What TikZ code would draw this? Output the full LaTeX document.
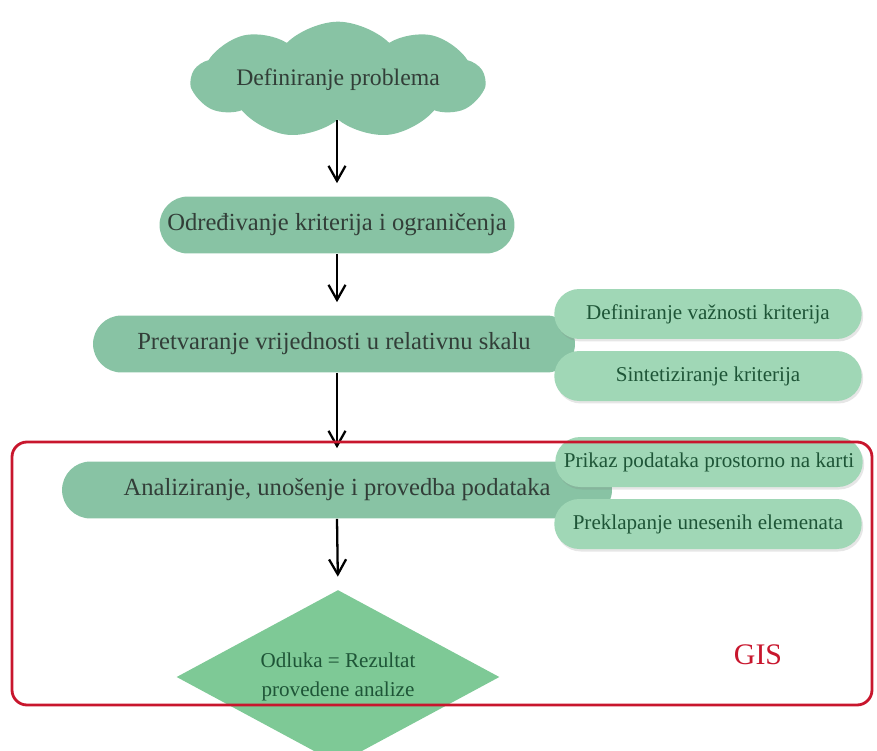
\documentclass[tikz,border=0pt]{standalone}
\usepackage{fontspec}
\setmainfont{Liberation Serif}
\usetikzlibrary{shapes.symbols,shapes.geometric,shadows,arrows.meta}
\definecolor{glavna}{RGB}{136,195,164}
\definecolor{sporedna}{RGB}{160,215,182}
\definecolor{romb}{RGB}{126,201,150}
\definecolor{crvena}{RGB}{200,22,45}
\definecolor{tekst}{RGB}{50,62,56}
\definecolor{zeltekst}{RGB}{30,85,55}

\tikzset{
  oblak/.style={cloud, cloud puffs=9, cloud puff arc=90, aspect=3.2,
    fill=glavna, minimum width=5.85cm, minimum height=2.0cm, inner xsep=-4pt,
    inner ysep=0pt, text=tekst, font=\fontsize{13.5}{15}\selectfont},
  korak/.style={rectangle, fill=glavna, rounded corners=0.57cm,
    minimum height=1.14cm, text=tekst, font=\fontsize{14}{16}\selectfont},
  pod/.style={rectangle, fill=sporedna, rounded corners=0.5cm,
    minimum width=6.15cm, minimum height=1.0cm, text=zeltekst,
    font=\fontsize{12}{14}\selectfont,
    drop shadow={opacity=0.2, shadow xshift=0.03cm, shadow yshift=-0.05cm}},
  odluka/.style={diamond, fill=romb, aspect=1.86, inner sep=0pt,
    minimum width=6.46cm, minimum height=3.48cm, text=zeltekst, align=center,
    font=\fontsize{12}{16.4}\selectfont},
  tok/.style={-{Straight Barb[length=0.3cm, width=0.34cm, line width=1.3pt]},
    line width=1.3pt, shorten >=0.26cm}
}

\begin{document}
\begin{tikzpicture}[x=0.02cm, y=-0.02cm]
\useasboundingbox (0,0) rectangle (877,751);

\node[oblak] (prob) at (338,80) {Definiranje problema};
\node[korak, minimum width=7.1cm] (krit) at (337,225)
     {Određivanje kriterija i ograničenja};
\node[korak, minimum width=9.64cm] (skala) at (334,344)
     {Pretvaranje vrijednosti u relativnu skalu};
\node[korak, minimum width=11cm] (anal) at (337,490)
     {Analiziranje, unošenje i provedba podataka};
\node[odluka] (odl) at (338,677) {Odluka = Rezultat\\provedene analize};

% pomocni koraci
\node[pod] (vazn) at (708,314) {Definiranje važnosti kriterija};
\node[pod] (sint) at (708,376) {Sintetiziranje kriterija};
\node[pod] (prikaz) at (709,462) {Prikaz podataka prostorno na karti};
\node[pod] (prekl) at (708,524) {Preklapanje unesenih elemenata};

\draw[tok] (krit.north |- prob.south) -- (krit.north);
\draw[tok] (krit.south) -- (krit.south |- skala.north);
\draw[tok] (krit.south |- skala.south) -- (krit.south |- anal.north);
\draw[tok] (krit.south |- anal.south) -- (odl.north);

% GIS okvir
\node[text=crvena, font=\fontsize{17}{19}\selectfont] (gis) at (758,655) {GIS};
\draw[crvena, line width=1.6pt, rounded corners=0.3cm] (12,442) rectangle (872,705);
\end{tikzpicture}
\end{document}
